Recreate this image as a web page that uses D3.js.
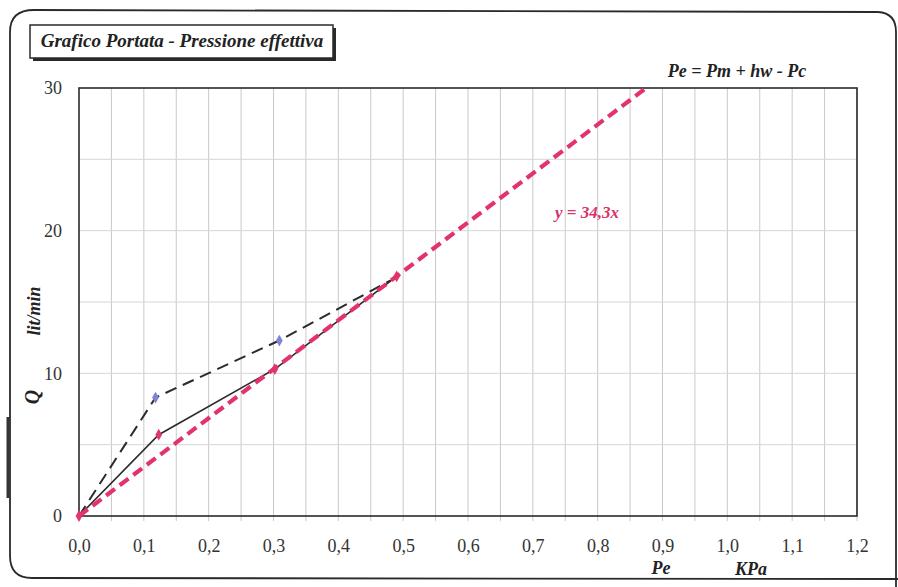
<!DOCTYPE html>
<html>
<head>
<meta charset="utf-8">
<script src="https://cdn.jsdelivr.net/npm/d3@7"></script>
<style>
  html, body { margin: 0; padding: 0; background: #fff; }
  svg { display: block; }
</style>
</head>
<body>
<svg id="chart" width="898" height="587"></svg>
<script>
// Flow rate Q (lit/min) vs effective pressure Pe (KPa)
const xTicks = [0, 0.1, 0.2, 0.3, 0.4, 0.5, 0.6, 0.7, 0.8, 0.9, 1.0, 1.1, 1.2];
const yTicks = [0, 10, 20, 30];

// measured series A (dashed, blue markers)
const peA = [0, 0.118, 0.309, 0.48];
const qA  = [0, 8.3, 12.3, 16.5];

// measured series B (solid, red markers)
const peB = [0, 0.123, 0.302, 0.49];
const qB  = [0, 5.7, 10.3, 16.8];

// linear fit through origin: y = 34,3x
const slope = 34.3;
const fitEndQ = 30;

const SERIF = '"Liberation Serif"';

const svg = d3.select("#chart");

const x = d3.scaleLinear().domain([0, 1.2]).range([79, 857]);
const y = d3.scaleLinear().domain([0, 30]).range([516, 88]);

function label(px, py, txt, size, opts = {}) {
  const t = svg.append("text")
    .attr("x", px).attr("y", py)
    .attr("text-anchor", opts.anchor || "middle")
    .style("font-family", SERIF)
    .style("font-size", size + "px")
    .style("font-weight", opts.bold === false ? "normal" : "bold")
    .style("font-style", opts.italic === false ? "normal" : "italic")
    .attr("fill", opts.fill || "#222")
    .text(txt);
  if (opts.rotate) t.attr("transform", `rotate(-90,${px},${py})`);
  return t;
}

// outer frame with rounded corners
svg.append("path")
  .attr("d", "M 10 32 Q 10 10 34 10 L 878 12 Q 896 13 896 32 L 896 587 M 10 32 L 10 556 Q 10 578 32 578 L 898 579")
  .attr("fill", "none").attr("stroke", "#2a2a2a").attr("stroke-width", 1.8);
svg.append("line").attr("x1", 8).attr("x2", 8).attr("y1", 417).attr("y2", 498)
  .attr("stroke", "#333").attr("stroke-width", 3);

// title box with shadow
svg.append("rect").attr("x", 33).attr("y", 28).attr("width", 303).attr("height", 33).attr("fill", "#2a2a2a");
svg.append("rect").attr("x", 30).attr("y", 25).attr("width", 303).attr("height", 33)
  .attr("fill", "#fff").attr("stroke", "#2a2a2a").attr("stroke-width", 1.5);
label(182, 47, "Grafico Portata - Pressione effettiva", 19);

label(737, 77, "Pe = Pm + hw - Pc", 18);

// grid
const g = svg.append("g");
const vGrid = d3.range(1, 25).map(i => i * 0.05);
g.selectAll("line.v").data(vGrid).join("line")
  .attr("class", "v")
  .attr("x1", d => x(d)).attr("x2", d => x(d))
  .attr("y1", y(30)).attr("y2", y(0) + 5)
  .attr("stroke", "#c9c9c9").attr("stroke-width", 1);
const hGrid = [5, 10, 15, 20, 25];
g.selectAll("line.h").data(hGrid).join("line")
  .attr("class", "h")
  .attr("x1", x(0)).attr("x2", x(1.2))
  .attr("y1", d => y(d)).attr("y2", d => y(d))
  .attr("stroke", "#d6d6d6").attr("stroke-width", 1);

// plot border
svg.append("rect").attr("x", x(0)).attr("y", y(30))
  .attr("width", x(1.2) - x(0)).attr("height", y(0) - y(30))
  .attr("fill", "none").attr("stroke", "#2a2a2a").attr("stroke-width", 1.6);

// axes
const xAxis = d3.axisBottom(x).tickValues(xTicks).tickSize(0).tickPadding(23)
  .tickFormat(d => d3.format(".1f")(d).replace(".", ","));
svg.append("g").attr("transform", `translate(0,${y(0)})`).call(xAxis)
  .call(s => s.select(".domain").remove())
  .selectAll("text").style("font-size", "18px").attr("fill", "#333")
  .style("font-family", SERIF);

const yAxis = d3.axisLeft(y).tickValues(yTicks).tickSize(0).tickPadding(17);
svg.append("g").attr("transform", `translate(${x(0)},0)`).call(yAxis)
  .call(s => s.select(".domain").remove())
  .selectAll("text").style("font-size", "18px").attr("fill", "#333")
  .style("font-family", SERIF);

// axis titles
label(39, 397, "Q", 20, { rotate: true });
label(40, 311, "lit/min", 18, { rotate: true });
label(661, 574, "Pe", 18);
label(751, 575, "KPa", 18);

// series
const line = d3.line().x(d => x(d[0])).y(d => y(d[1]));
const ptsA = peA.map((p, i) => [p, qA[i]]);
const ptsB = peB.map((p, i) => [p, qB[i]]);

svg.append("path").datum(ptsA).attr("d", line)
  .attr("fill", "none").attr("stroke", "#2b2b2b").attr("stroke-width", 2)
  .attr("stroke-dasharray", "12,7");
svg.append("path").datum(ptsB).attr("d", line)
  .attr("fill", "none").attr("stroke", "#2b2b2b").attr("stroke-width", 1.6);

// markers on the interior points of series A; all points of series B
const diamond = d3.symbol().type(d3.symbolDiamond).size(40);
svg.selectAll("path.mA").data(ptsA.slice(1, -1)).join("path")
  .attr("class", "mA").attr("d", diamond)
  .attr("transform", d => `translate(${x(d[0])},${y(d[1])})`)
  .attr("fill", "#7d84d6");
svg.selectAll("path.mB").data(ptsB).join("path")
  .attr("class", "mB").attr("d", diamond)
  .attr("transform", d => `translate(${x(d[0])},${y(d[1])})`)
  .attr("fill", "#e03a6c");

// fitted line
const fitPts = [[0, 0], [fitEndQ / slope, fitEndQ]];
svg.append("path").datum(fitPts).attr("d", line)
  .attr("fill", "none").attr("stroke", "#e2336b").attr("stroke-width", 4.2)
  .attr("stroke-dasharray", "11,6");

label(587, 218, "y = " + String(slope).replace(".", ",") + "x", 17, { fill: "#d8336a" });
</script>
</body>
</html>
